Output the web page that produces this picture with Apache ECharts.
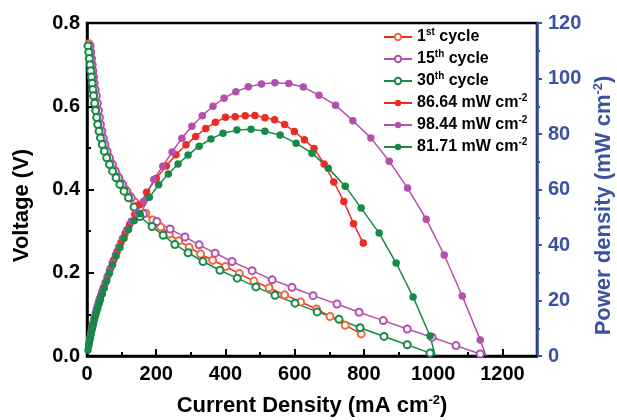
<!DOCTYPE html>
<html>
<head>
<meta charset="utf-8">
<script src="https://cdn.jsdelivr.net/npm/echarts@6/dist/echarts.min.js"></script>
<style>
  html, body { margin: 0; padding: 0; background: #fff; }
  #chart { width: 617px; height: 420px; }
</style>
</head>
<body>
<div id="chart"></div>
<script>
// axis ticks
const xMajorTicks = [0, 200, 400, 600, 800, 1000, 1200];
const xMinorTicks = [100, 300, 500, 700, 900, 1100];

// 1st cycle: voltage (open) and power (filled)
const cur1V = [6,8,10,12,14,16,18,20,22,25,28,31,34,38,42,47,53,60,68,77,87,98,110,123,138,153,170,190,213,238,265,295,328,363,400,440,482,526,571,617,663,702,746,792];
const volt1 = [0.75,0.735,0.72,0.705,0.69,0.675,0.66,0.645,0.63,0.612,0.595,0.578,0.561,0.545,0.529,0.513,0.497,0.481,0.465,0.449,0.433,0.417,0.401,0.385,0.37,0.357,0.343,0.327,0.31,0.293,0.277,0.261,0.245,0.23,0.215,0.198,0.18,0.164,0.147,0.13,0.113,0.095,0.074,0.053];
const cur1P = [6,8,10,12,14,16,18,20,22,25,28,31,34,38,42,47,53,60,68,77,87,98,110,123,138,153,172,200,229,257,286,314,343,371,400,428,457,485,514,542,571,599,628,656,685,713,742,770,798];
const pow1 = [4.5,5.9,7.2,8.5,9.7,10.8,11.9,12.9,13.9,15.3,16.7,17.9,19.1,20.7,22.2,24.1,26.3,28.9,31.6,34.6,37.7,40.9,44.1,47.4,51.1,54.6,59.0,64.0,68.5,72.5,76.1,79.1,82.0,84.2,86.0,86.2,86.6,86.64,85.9,85.1,83.4,80.9,77.9,74.8,69.2,62.7,55.7,47.7,40.7];

// 15th cycle
const cur15V = [9,11,13,15,17,19,21,24,27,30,33,36,39,43,47,52,58,65,73,82,92,103,115,128,143,163,202,240,283,324,370,419,477,535,592,653,722,786,856,925,997,1066,1136];
const volt15 = [0.745,0.73,0.715,0.70,0.685,0.67,0.655,0.64,0.625,0.607,0.59,0.573,0.556,0.54,0.524,0.508,0.492,0.476,0.46,0.444,0.428,0.412,0.396,0.38,0.36,0.342,0.323,0.305,0.286,0.267,0.247,0.227,0.205,0.183,0.165,0.145,0.125,0.105,0.085,0.065,0.045,0.025,0.005];
const cur15P = [9,11,13,15,17,19,21,24,27,30,33,36,39,43,47,52,58,65,73,82,92,103,115,128,143,163,193,219,246,274,303,333,364,396,430,466,504,543,583,625,670,718,768,820,873,926,980,1032,1084,1136,1153];
const pow15 = [6.7,8.0,9.3,10.5,11.6,12.7,13.8,15.4,16.9,18.2,19.5,20.6,21.7,23.2,24.6,26.4,28.5,30.9,33.6,36.4,39.4,42.4,45.5,48.6,51.5,55.7,63.6,68.4,73.5,78.5,82.8,86.6,90.0,92.9,95.2,97.0,98.0,98.44,98.2,96.9,94.0,90.4,84.8,78.6,70.2,60.5,49.3,36.4,21.6,5.8,0];

// 30th cycle
const cur30V = [3,5,7,9,11,13,15,17,19,22,25,28,31,35,39,44,50,57,65,74,84,95,107,120,136,153,188,220,254,292,335,384,434,488,543,601,665,728,789,858,925,991];
const volt30 = [0.745,0.73,0.715,0.70,0.685,0.67,0.655,0.64,0.625,0.607,0.59,0.573,0.556,0.54,0.524,0.508,0.492,0.476,0.46,0.444,0.428,0.412,0.396,0.38,0.358,0.335,0.311,0.29,0.268,0.248,0.227,0.206,0.187,0.166,0.146,0.127,0.106,0.088,0.068,0.047,0.027,0.007];
const cur30P = [3,5,7,9,11,13,15,17,19,22,25,28,31,35,39,44,50,57,65,74,84,95,107,120,136,153,180,207,235,263,292,324,358,393,433,474,514,558,604,650,697,746,792,844,893,942,991,1006];
const pow30 = [2.2,3.7,5.0,6.3,7.5,8.7,9.8,10.9,11.9,13.4,14.8,16.0,17.2,18.9,20.4,22.4,24.6,27.1,29.9,32.9,36.0,39.1,42.4,45.6,48.7,51.3,57.2,61.7,65.6,69.2,72.4,75.6,78.2,80.3,81.4,81.71,81.0,79.6,76.7,73.1,67.7,61.2,53.3,44.3,33.5,21.3,7.2,0];

const FONT = '"Liberation Sans", Arial, sans-serif';
const BLUE = '#3A52A4';
const RED = '#EE2A24';
const ORANGE = '#F26A3E';
const PURPLE = '#B350AE';
const GREEN = '#168A46';

const legendText = {
  '1st cycle': '{b|1}{s|st}{b| cycle}',
  '15th cycle': '{b|15}{s|th}{b| cycle}',
  '30th cycle': '{b|30}{s|th}{b| cycle}',
  '86.64 mW cm-2': '{b|86.64 mW cm}{s|-2}',
  '98.44 mW cm-2': '{b|98.44 mW cm}{s|-2}',
  '81.71 mW cm-2': '{b|81.71 mW cm}{s|-2}'
};

function pairs(xs, ys, openEnd) {
  return xs.map((x, i) => {
    const item = { value: [x, ys[i]] };
    if (openEnd && i === xs.length - 1) item.symbol = 'none';
    return item;
  });
}

function voltSeries(name, xs, ys, lineColor, dotColor) {
  return {
    name, type: 'line', xAxisIndex: 0, yAxisIndex: 0,
    data: pairs(xs, ys, false),
    symbol: 'emptyCircle', symbolSize: 7,
    lineStyle: { color: lineColor, width: 1.5 },
    itemStyle: { color: dotColor, borderWidth: 1 },
    emphasis: { disabled: true }
  };
}

function powSeries(name, xs, ys, color, openEnd) {
  return {
    name, type: 'line', xAxisIndex: 0, yAxisIndex: 1,
    data: pairs(xs, ys, openEnd),
    symbol: 'circle', symbolSize: 7.5,
    lineStyle: { color, width: 1.5 },
    itemStyle: { color },
    emphasis: { disabled: true }
  };
}

const supRich = (color) => ({
  b: { fontSize: 22, fontWeight: 'bold', fontFamily: FONT, color, lineHeight: 24 },
  s: { fontSize: 13, fontWeight: 'bold', fontFamily: FONT, color, verticalAlign: 'top', lineHeight: 13 }
});

const tickFont = { fontSize: 20, fontWeight: 'bold', fontFamily: FONT };

const chart = echarts.init(document.getElementById('chart'));
chart.setOption({
  animation: false,
  backgroundColor: '#fff',
  grid: {
    left: 87, right: 80, top: 23, bottom: 64, outerBoundsMode: 'none', containLabel: false,
    show: true, borderColor: '#000', borderWidth: 2.5
  },
  legend: {
    orient: 'vertical', left: 383, top: 27, padding: 0,
    itemWidth: 28, itemHeight: 8, itemGap: 4,
    formatter: (n) => legendText[n],
    textStyle: {
      rich: {
        b: { fontSize: 16, fontWeight: 'bold', fontFamily: FONT, color: '#000', lineHeight: 20 },
        s: { fontSize: 10, fontWeight: 'bold', fontFamily: FONT, color: '#000', verticalAlign: 'top', lineHeight: 10 }
      }
    }
  },
  xAxis: [
    {
      type: 'value', position: 'bottom', min: 0, max: 1300, interval: 200,
      name: '{b|Current Density (mA cm}{s|-2}{b|)}',
      nameLocation: 'middle', nameGap: 38,
      nameTextStyle: { rich: supRich('#000') },
      axisLine: { onZero: false, lineStyle: { color: '#000', width: 2.5 } },
      axisTick: { inside: true, length: 7, lineStyle: { color: '#000', width: 2 }, customValues: xMajorTicks },
      axisLabel: Object.assign({ customValues: xMajorTicks, formatter: (v) => String(v), margin: 8, color: '#000' }, tickFont),
      splitLine: { show: false }
    },
    {
      type: 'value', position: 'bottom', min: 0, max: 1300, interval: 200,
      axisLine: { show: false, onZero: false },
      axisTick: { inside: true, length: 4, lineStyle: { color: '#000', width: 2 }, customValues: xMinorTicks },
      axisLabel: { show: false },
      splitLine: { show: false }
    }
  ],
  yAxis: [
    {
      type: 'value', position: 'left', min: 0, max: 0.8, interval: 0.2,
      name: 'Voltage (V)', nameLocation: 'middle', nameGap: 54, nameRotate: 90,
      nameTextStyle: { fontSize: 22, fontWeight: 'bold', fontFamily: FONT, color: '#000', padding: [0, 32, 0, 0] },
      axisLine: { show: true, onZero: false, lineStyle: { color: '#000', width: 2.5 } },
      axisTick: { inside: true, length: 7, lineStyle: { color: '#000', width: 2 } },
      minorTick: { show: true, splitNumber: 2, length: 4, lineStyle: { color: '#000', width: 2 } },
      axisLabel: Object.assign({ formatter: (v) => v.toFixed(1), margin: 7, color: '#000' }, tickFont),
      splitLine: { show: false }
    },
    {
      type: 'value', position: 'right', min: 0, max: 120, interval: 20,
      name: '{b|Power density (mW cm}{s|-2}{b|)}', nameLocation: 'middle', nameGap: 49, nameRotate: 90,
      nameTextStyle: { rich: supRich(BLUE), padding: [0, 32, 0, 0] },
      axisLine: { show: true, onZero: false, lineStyle: { color: BLUE, width: 2.5 } },
      axisTick: { inside: false, length: 5, lineStyle: { color: BLUE, width: 2 } },
      minorTick: { show: true, splitNumber: 2, length: 3, lineStyle: { color: BLUE, width: 2 } },
      axisLabel: Object.assign({ margin: 11, color: BLUE }, tickFont),
      splitLine: { show: false }
    }
  ],
  series: [
    voltSeries('1st cycle', cur1V, volt1, RED, ORANGE),
    voltSeries('15th cycle', cur15V, volt15, PURPLE, PURPLE),
    voltSeries('30th cycle', cur30V, volt30, GREEN, GREEN),
    powSeries('86.64 mW cm-2', cur1P, pow1, RED, false),
    powSeries('98.44 mW cm-2', cur15P, pow15, PURPLE, true),
    powSeries('81.71 mW cm-2', cur30P, pow30, GREEN, true)
  ]
});
</script>
</body>
</html>
